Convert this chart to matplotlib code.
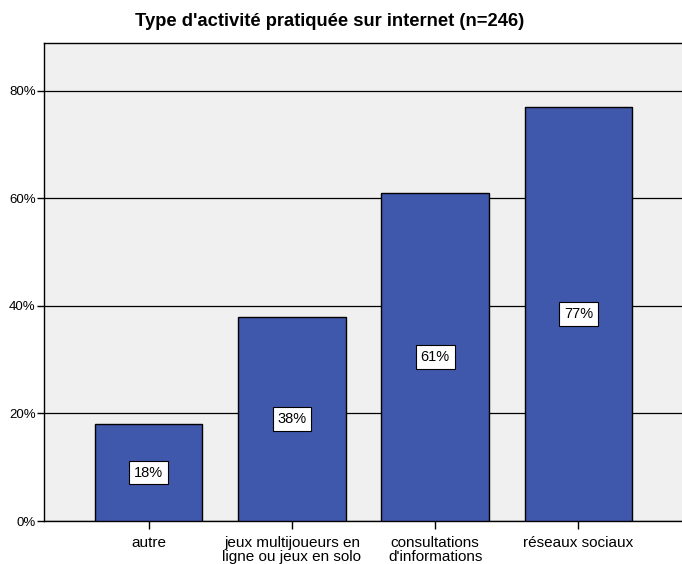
import matplotlib.pyplot as plt
import numpy as np

plt.rcParams["font.family"] = ["Liberation Sans", "DejaVu Sans"]

categories = ["autre", "jeux multijoueurs en\nligne ou jeux en solo",
              "consultations\nd'informations", "réseaux sociaux"]
percent = [18, 38, 61, 77]
yticks = [0, 20, 40, 60, 80]

fig = plt.figure(figsize=(6.82, 5.64), dpi=100)
ax = fig.add_axes([44 / 682, 43 / 564, 1 - 44 / 682 + 0.01, 478 / 564])
ax.set_facecolor("#F0F0F0")

x = np.arange(len(categories))
ax.set_axisbelow(True)
ax.yaxis.grid(True, color="black", linewidth=0.9)
bars = ax.bar(x, percent, width=0.75, color="#3F58AB", edgecolor="black", linewidth=1.0, zorder=3)

for xi, v in zip(x, percent):
    ax.text(xi, v / 2, f"{v}%", ha="center", va="center", fontsize=10.5, zorder=4,
            bbox=dict(boxstyle="square,pad=0.33", facecolor="white", edgecolor="black", linewidth=0.8))

ax.set_xlim(-0.73, 3.77)
ax.set_ylim(0, 88.9)
ax.set_yticks(yticks)
ax.set_yticklabels([f"{t}%" for t in yticks], fontsize=9.5)
ax.set_xticks(x)
ax.set_xticklabels(categories, fontsize=11, linespacing=0.95)
ax.tick_params(axis="y", length=5, width=1, pad=1)
ax.tick_params(axis="x", length=6, width=1, pad=5)

for s in ["left", "bottom", "top"]:
    ax.spines[s].set_linewidth(1.0)
ax.spines["right"].set_visible(False)

fig.text(0.5 - 0.017, 1 - 22 / 564, "Type d'activité pratiquée sur internet (n=246)",
         ha="center", va="center", fontsize=13.2, fontweight="bold")

fig.savefig("out.png", dpi=100)
